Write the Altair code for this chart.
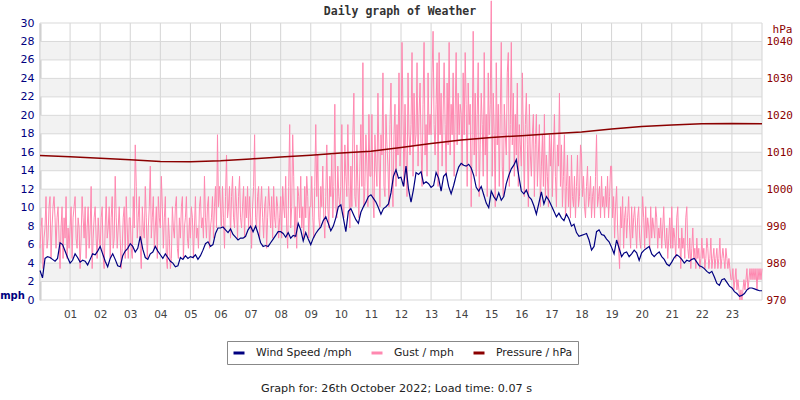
import altair as alt
import numpy as np
import pandas as pd

# Axis ticks and shading bands
hour_ticks = list(range(1, 24))
grid_hours = list(range(0, 25))
mph_ticks = list(range(0, 31, 2))
hpa_ticks = list(range(970, 1041, 10))
band_lows = [2, 6, 10, 14, 18, 22, 26]

# Wind speed (mph), one reading every 5 minutes from 00:00 to 24:00
wind_mph = [
    3.2, 2.4, 4.5, 4.7, 4.6, 4.4, 4.2, 4.5, 6.2, 6.0, 5.3, 4.6,
    4.0, 4.3, 5.0, 4.6, 4.1, 4.3, 4.2, 3.8, 4.4, 5.0, 4.9, 5.3,
    5.8, 5.0, 4.2, 3.6, 4.5, 5.0, 4.4, 3.7, 3.6, 4.8, 5.3, 5.6,
    6.1, 5.8, 5.2, 5.6, 6.9, 5.5, 4.6, 4.4, 5.0, 5.2, 5.8, 5.3,
    4.9, 4.5, 5.0, 4.6, 4.2, 4.0, 3.6, 3.7, 4.6, 4.4, 4.8, 4.5,
    4.7, 4.6, 4.9, 4.4, 4.8, 5.4, 6.1, 6.3, 5.8, 6.0, 7.2, 7.8,
    7.8, 7.9, 7.6, 7.3, 7.7, 7.1, 6.8, 6.5, 6.7, 6.7, 6.9, 7.6,
    8.0, 7.4, 8.0, 7.2, 6.2, 5.8, 5.9, 5.8, 6.2, 6.6, 7.0, 7.4,
    7.4, 7.2, 6.8, 7.3, 6.7, 7.0, 6.9, 8.3, 7.6, 6.4, 7.3, 6.6,
    6.0, 6.7, 7.2, 7.6, 7.9, 8.6, 9.0, 8.3, 7.5, 8.0, 8.9, 10.1,
    10.3, 8.9, 7.4, 9.6, 9.9, 9.3, 8.7, 8.3, 9.5, 10.1, 10.6, 11.2,
    11.4, 11.0, 10.6, 10.0, 9.3, 9.9, 10.1, 10.4, 11.6, 13.4, 14.1, 13.2,
    13.3, 12.3, 14.5, 12.0, 10.6, 12.0, 13.8, 13.6, 13.9, 12.6, 12.8, 12.6,
    12.2, 12.4, 13.8, 13.2, 11.8, 13.4, 13.7, 12.3, 11.5, 12.4, 13.5, 14.4,
    14.8, 14.6, 14.5, 14.7, 14.3, 13.5, 12.2, 11.8, 12.3, 11.4, 10.5, 10.0,
    11.8, 11.2, 10.8, 11.6, 10.8, 11.2, 12.6, 13.5, 14.2, 14.6, 15.2, 13.4,
    11.8, 11.5, 11.9, 11.2, 10.9, 10.2, 9.3, 10.5, 11.7, 10.4, 11.2, 10.8,
    10.2, 9.6, 9.0, 9.4, 8.9, 8.6, 9.3, 8.8, 8.0, 8.2, 7.3, 6.9,
    7.0, 7.1, 7.2, 6.5, 5.4, 5.8, 7.4, 7.6, 7.1, 7.0, 6.6, 6.3,
    5.7, 5.0, 6.5, 5.6, 4.7, 5.1, 5.2, 4.7, 5.0, 5.4, 5.1, 4.3,
    5.1, 5.4, 5.6, 5.8, 5.0, 4.7, 5.0, 5.2, 4.7, 4.4, 3.9, 3.7,
    4.1, 4.6, 4.9, 4.7, 4.4, 4.0, 4.3, 4.2, 4.4, 4.5, 4.1, 3.7,
    3.6, 3.4, 3.1, 2.9, 3.1, 2.5, 1.8, 1.6, 2.2, 2.3, 1.9, 1.5,
    1.3, 0.9, 0.7, 0.4, 0.5, 0.7, 1.1, 1.3, 1.3, 1.2, 1.1, 1.0,
    1.0,
]

# Gust (mph), one reading every 2 minutes from 00:00 to 24:00
gust_mph = [
    5.6, 7.8, 8.9, 3.4, 6.7, 7.8, 11.2, 5.6, 6.7, 10.1, 11.2, 4.5, 7.8, 10.1, 11.2,
    8.9, 5.6, 8.9, 10.1, 6.7, 3.4, 7.8, 10.1, 4.5, 8.9, 6.7, 11.2, 4.5, 7.8, 5.6,
    7.8, 10.1, 4.5, 8.9, 10.1, 11.2, 6.7, 5.6, 8.9, 7.8, 3.4, 6.7, 11.2, 8.9, 6.7,
    10.1, 4.5, 7.8, 10.1, 5.6, 7.8, 12.3, 3.4, 6.7, 8.9, 10.1, 6.7, 4.5, 8.9, 6.7,
    5.6, 8.9, 10.1, 4.5, 3.4, 7.8, 11.2, 6.7, 7.8, 10.1, 4.5, 8.9, 11.2, 5.6, 6.7,
    13.4, 8.9, 5.6, 7.8, 10.1, 6.7, 3.4, 5.6, 8.9, 10.1, 4.5, 11.2, 7.8, 4.5, 8.9,
    8.9, 5.6, 4.5, 11.2, 7.8, 16.8, 12.3, 6.7, 8.9, 11.2, 5.6, 3.4, 10.1, 7.8, 6.7,
    12.3, 8.9, 4.5, 7.8, 10.1, 14.5, 6.7, 8.9, 11.2, 5.6, 7.8, 10.1, 4.5, 11.2, 8.9,
    7.8, 13.4, 10.1, 5.6, 8.9, 11.2, 4.5, 3.4, 8.9, 6.7, 3.4, 4.5, 10.1, 7.8, 6.7,
    10.1, 11.2, 5.6, 4.5, 8.9, 6.7, 10.1, 11.2, 4.5, 7.8, 8.9, 11.2, 6.7, 5.6, 8.9,
    6.7, 10.1, 8.9, 4.5, 7.8, 11.2, 6.7, 7.8, 5.6, 10.1, 11.2, 7.8, 8.9, 6.7, 13.4,
    8.9, 6.7, 10.1, 11.2, 5.6, 7.8, 8.9, 11.2, 6.7, 10.1, 12.3, 7.8, 17.9, 10.1, 12.3,
    10.1, 7.8, 12.3, 8.9, 5.6, 11.2, 15.7, 8.9, 10.1, 12.3, 6.7, 11.2, 13.4, 8.9, 7.8,
    12.3, 10.1, 6.7, 11.2, 13.4, 8.9, 7.8, 10.1, 12.3, 6.7, 11.2, 8.9, 12.3, 7.8, 11.2,
    8.9, 5.6, 10.1, 12.3, 17.9, 8.9, 7.8, 11.2, 12.3, 6.7, 10.1, 12.3, 8.9, 6.7, 10.1,
    11.2, 5.6, 8.9, 12.3, 10.1, 7.8, 11.2, 6.7, 12.3, 8.9, 7.8, 11.2, 10.1, 6.7, 8.9,
    11.2, 6.7, 12.3, 10.1, 8.9, 13.4, 7.8, 5.6, 12.3, 19.0, 7.8, 10.1, 17.9, 13.4, 6.7,
    10.1, 5.6, 12.3, 11.2, 8.9, 13.4, 7.8, 10.1, 6.7, 12.3, 8.9, 13.4, 11.2, 6.7, 10.1,
    10.1, 13.4, 8.9, 6.7, 12.3, 19.0, 11.2, 15.7, 8.9, 7.8, 12.3, 10.1, 14.5, 8.9, 6.7,
    11.2, 16.8, 10.1, 7.8, 13.4, 11.2, 15.7, 8.9, 12.3, 21.2, 10.1, 8.9, 14.5, 11.2, 10.1,
    12.3, 19.0, 10.1, 8.9, 16.8, 13.4, 11.2, 19.0, 12.3, 7.8, 14.5, 10.1, 17.9, 22.4, 11.2,
    10.1, 16.8, 12.3, 8.9, 14.5, 19.0, 12.3, 25.7, 10.1, 12.3, 17.9, 14.5, 10.1, 20.1, 13.4,
    13.4, 20.1, 11.2, 8.9, 17.9, 14.5, 12.3, 22.4, 15.7, 10.1, 17.9, 15.7, 24.6, 12.3, 11.2,
    20.1, 16.8, 14.5, 10.1, 19.0, 23.5, 13.4, 10.1, 17.9, 21.2, 12.3, 19.0, 15.7, 24.6, 14.5,
    16.8, 27.9, 20.1, 12.3, 21.2, 15.7, 11.2, 24.6, 17.9, 15.7, 19.0, 26.8, 13.4, 22.4, 16.8,
    17.9, 25.7, 14.5, 20.1, 23.5, 16.8, 12.3, 21.2, 27.9, 15.7, 19.0, 13.4, 24.6, 17.9, 20.1,
    17.9, 24.6, 29.1, 19.0, 15.7, 21.2, 25.7, 12.3, 26.8, 17.9, 22.4, 14.5, 20.1, 25.7, 19.0,
    13.4, 23.5, 16.8, 27.9, 15.7, 21.2, 17.9, 24.6, 13.4, 20.1, 26.8, 16.8, 22.4, 17.9, 21.2,
    20.1, 14.5, 24.6, 17.9, 26.8, 21.2, 12.3, 23.5, 19.0, 21.2, 10.1, 17.9, 29.1, 15.7, 22.4,
    13.4, 20.1, 25.7, 11.2, 16.8, 22.4, 19.0, 13.4, 26.8, 15.7, 20.1, 11.2, 24.6, 17.9, 21.2,
    32.4, 13.4, 22.4, 17.9, 10.1, 25.7, 16.8, 21.2, 12.3, 20.1, 27.9, 14.5, 11.2, 21.2, 17.9,
    15.7, 24.6, 26.8, 12.3, 19.0, 27.9, 16.8, 22.4, 13.4, 20.1, 15.7, 23.5, 12.3, 19.0, 16.8,
    14.5, 24.6, 17.9, 11.2, 19.0, 22.4, 16.8, 10.1, 21.2, 15.7, 13.4, 17.9, 20.1, 11.2, 16.8,
    20.1, 12.3, 15.7, 19.0, 10.1, 14.5, 17.9, 12.3, 20.1, 11.2, 15.7, 13.4, 10.1, 17.9, 14.5,
    17.9, 11.2, 15.7, 20.1, 13.4, 10.1, 16.8, 14.5, 22.4, 12.3, 16.8, 10.1, 13.4, 17.9, 8.9,
    12.3, 15.7, 10.1, 13.4, 8.9, 15.7, 11.2, 10.1, 13.4, 8.9, 12.3, 15.7, 10.1, 11.2, 16.8,
    15.7, 11.2, 13.4, 10.1, 8.9, 12.3, 14.5, 10.1, 11.2, 13.4, 8.9, 11.2, 12.3, 8.9, 13.4,
    17.9, 10.1, 11.2, 12.3, 8.9, 13.4, 10.1, 11.2, 8.9, 12.3, 10.1, 13.4, 8.9, 11.2, 14.5,
    14.5, 8.9, 11.2, 6.7, 10.1, 12.3, 7.8, 5.6, 3.4, 10.1, 7.8, 11.2, 5.6, 8.9, 10.1,
    6.7, 8.9, 11.2, 7.8, 5.6, 10.1, 6.7, 8.9, 10.1, 7.8, 5.6, 8.9, 10.1, 6.7, 5.6,
    7.8, 11.2, 8.9, 5.6, 10.1, 6.7, 8.9, 7.8, 5.6, 10.1, 6.7, 8.9, 7.8, 6.7, 10.1,
    8.9, 5.6, 7.8, 6.7, 8.9, 5.6, 7.8, 10.1, 6.7, 5.6, 7.8, 4.5, 6.7, 8.9, 5.6,
    10.1, 5.6, 7.8, 6.7, 4.5, 8.9, 10.1, 5.6, 6.7, 3.4, 7.8, 5.6, 6.7, 4.5, 8.9,
    10.1, 5.6, 4.5, 6.7, 3.4, 5.6, 7.8, 4.5, 5.6, 3.4, 6.7, 4.5, 5.6, 3.4, 4.5,
    6.7, 4.5, 5.6, 3.4, 4.5, 6.7, 5.6, 3.4, 4.5, 6.7, 3.4, 4.5, 5.6, 3.4, 4.5,
    5.6, 3.4, 4.5, 6.7, 3.4, 4.5, 5.6, 4.5, 3.4, 5.6, 4.5, 3.4, 4.5, 3.4, 2.2,
    2.2, 3.4, 1.1, 2.2, 3.4, 1.1, 2.2, 1.1, 0.0, 1.1, 0.0, 1.1, 2.2, 1.1, 2.2,
    3.4, 1.1, 2.2, 3.4, 2.2, 3.4, 2.2, 3.4, 2.2, 3.4, 1.1, 3.4, 2.2, 3.4, 2.2,
    3.4,
]

# Pressure (hPa), hourly from 00:00 to 24:00
pressure_hpa = [
    1009.1, 1008.8, 1008.4, 1008.0, 1007.5, 1007.4, 1007.7, 1008.2, 1008.7,
    1009.2, 1009.8, 1010.3, 1011.3, 1012.4, 1013.3, 1014.0, 1014.5, 1015.0,
    1015.5, 1016.3, 1017.0, 1017.4, 1017.7, 1017.8, 1017.7,
]

series_names = ["Wind Speed /mph", "Gust / mph", "Pressure / hPa"]
series_colors = ["#000080", "#ff88b0", "#8b0000"]
chart_title = "Daily graph of Weather"
footer_text = "Graph for: 26th October 2022; Load time: 0.07 s"

wind_df = pd.DataFrame({
    "hour": np.arange(len(wind_mph)) * 5 / 60,
    "value": wind_mph,
    "series": series_names[0],
})
gust_df = pd.DataFrame({
    "hour": np.arange(len(gust_mph)) * 2 / 60,
    "value": gust_mph,
    "series": series_names[1],
})
pressure_df = pd.DataFrame({
    "hour": np.arange(len(pressure_hpa)),
    "value": pressure_hpa,
    "series": series_names[2],
})
band_df = pd.DataFrame({"lo": band_lows, "hi": [b + 2 for b in band_lows], "x0": 0, "x1": 24})
vgrid_df = pd.DataFrame({"hour": grid_hours})
hgrid_df = pd.DataFrame({"mph": mph_ticks})
title_df = pd.DataFrame({"text": [chart_title]})

FONT = "DejaVu Sans"
MONO = "DejaVu Sans Mono"

x_scale = alt.Scale(domain=[0, 24], nice=False, zero=False)
mph_scale = alt.Scale(domain=[0, 30], nice=False)
hpa_scale = alt.Scale(domain=[970, 1045], nice=False, zero=False)

x_axis = alt.Axis(
    values=hour_ticks,
    labelExpr="datum.value < 10 ? '0' + datum.value : '' + datum.value",
    grid=False, ticks=False, domain=False,
    labelFont=FONT, labelFontSize=10.5, labelColor="#444444", labelPadding=9,
    title=footer_text,
    titleFont=FONT, titleFontSize=11.2, titleFontWeight="normal", titleColor="#222222",
    titleX=356, titleY=88, titleAlign="center", titleBaseline="middle",
)
mph_axis = alt.Axis(
    values=mph_ticks, grid=False, ticks=False,
    domain=True, domainColor="#cccccc", domainWidth=2,
    labelFont=FONT, labelFontSize=11, labelColor="#000080", labelPadding=6,
    title="mph", titleAngle=0, titleFont=FONT, titleFontSize=10, titleFontWeight="bold",
    titleColor="#000080", titleX=-28, titleY=272, titleAlign="center", titleBaseline="middle",
)
hpa_axis = alt.Axis(
    orient="right", values=hpa_ticks, format="d", grid=False, ticks=False, domain=False,
    labelFont=MONO, labelFontSize=11, labelColor="#8b0000", labelPadding=4,
    title="hPa", titleAngle=0, titleFont=MONO, titleFontSize=11, titleFontWeight="normal",
    titleColor="#8b0000", titleX=20, titleY=6, titleAlign="center", titleBaseline="middle",
)

legend = alt.Legend(
    title=None, orient="none", legendX=187, legendY=318, direction="horizontal",
    symbolType="stroke", symbolStrokeWidth=3, symbolSize=121,
    labelFont=FONT, labelFontSize=10.8, labelColor="#222222", labelOffset=10,
    columnPadding=13, padding=5, strokeColor="#888888", fillColor="white",
)
color_enc = alt.Color("series:N", scale=alt.Scale(domain=series_names, range=series_colors), legend=legend)

bands = alt.Chart(band_df).mark_rect(color="#f2f2f2").encode(
    x=alt.X("x0:Q", scale=x_scale, axis=x_axis),
    x2="x1:Q",
    y=alt.Y("lo:Q", scale=mph_scale, axis=mph_axis),
    y2="hi:Q",
)
vgrid = alt.Chart(vgrid_df).mark_rule(color="#d4d4d4", strokeWidth=1).encode(
    x=alt.X("hour:Q", scale=x_scale, axis=x_axis),
)
hgrid = alt.Chart(hgrid_df).mark_rule(color="#d9d9d9", strokeWidth=1).encode(
    y=alt.Y("mph:Q", scale=mph_scale, axis=mph_axis),
)
gust = alt.Chart(gust_df).mark_line(strokeWidth=1).encode(
    x=alt.X("hour:Q", scale=x_scale, axis=x_axis),
    y=alt.Y("value:Q", scale=mph_scale, axis=mph_axis),
    color=color_enc,
)
wind = alt.Chart(wind_df).mark_line(strokeWidth=1.2).encode(
    x=alt.X("hour:Q", scale=x_scale, axis=x_axis),
    y=alt.Y("value:Q", scale=mph_scale, axis=mph_axis),
    color=color_enc,
)
# Chart heading, centred above the plot area
heading = alt.Chart(title_df).mark_text(
    font=MONO, fontSize=11.5, fontWeight="bold", color="#333333",
    align="center", baseline="middle",
).encode(text="text:N", x=alt.value(360), y=alt.value(-11))

pressure = alt.Chart(pressure_df).mark_line(strokeWidth=1.5).encode(
    x=alt.X("hour:Q", scale=x_scale, axis=x_axis),
    y=alt.Y("value:Q", scale=hpa_scale, axis=hpa_axis),
    color=color_enc,
)

left = alt.layer(bands, vgrid, hgrid, gust, wind, heading)

chart = (
    alt.layer(left, pressure)
    .resolve_scale(y="independent")
    .properties(
        width=722,
        height=277,
        padding={"left": 40, "top": 23, "right": 38, "bottom": 100},
        autosize=alt.AutoSizeParams(type="none"),
        background="white",
    )
    .configure_view(strokeWidth=0)
)

chart.save("out.html", embed_options={"renderer": "svg", "actions": False})
